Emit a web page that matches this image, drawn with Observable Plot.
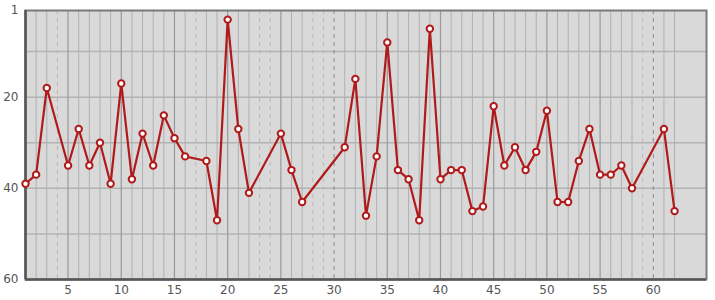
<!DOCTYPE html>
<html>
<head>
<meta charset="utf-8">
<script src="https://cdn.jsdelivr.net/npm/d3@7"></script>
<script src="https://cdn.jsdelivr.net/npm/@observablehq/plot@0.6"></script>
<style>
  html, body { margin: 0; padding: 0; background: #fff; }
  #chart svg { display: block; }
</style>
</head>
<body>
<div id="chart"></div>
<script>
const days = [1,2,3,5,6,7,8,9,10,11,12,13,14,15,16,18,19,20,21,22,25,26,27,31,32,33,34,35,36,37,38,39,40,41,42,43,44,45,46,47,48,49,50,51,52,53,54,55,56,57,58,61,62];
const ranks = [39,37,18,35,27,35,30,39,17,38,28,35,24,29,33,34,47,3,27,41,28,36,43,31,16,46,33,8,36,38,47,5,38,36,36,45,44,22,35,31,36,32,23,43,43,34,27,37,37,35,40,27,45];
const missingDays = [4,17,23,24,28,29,30,59,60];
const xTicks = [5,10,15,20,25,30,35,40,45,50,55,60];
const yTicks = [1,20,40,60];
const yGrid = [10,20,30,40,50];

const data = days.map((d, i) => ({day: d, rank: ranks[i]}));
const major = d => d % 5 === 0;

const chart = Plot.plot({
  width: 715,
  height: 300,
  marginLeft: 25,
  marginRight: 9,
  marginTop: 10,
  marginBottom: 21,
  style: {fontFamily: "DejaVu Sans, sans-serif", fontSize: "12px", color: "#555", background: "#fff"},
  x: {domain: [1, 65], label: null},
  y: {domain: [1, 60], reverse: true, label: null},
  marks: [
    Plot.frame({fill: "#d9d9d9", stroke: null}),
    Plot.ruleY(yGrid, {stroke: "#b3b3b3", strokeWidth: 1.5}),
    Plot.ruleX(days.filter(d => !major(d)), {stroke: "#b0b0b0", strokeWidth: 1}),
    Plot.ruleX(days.filter(major), {stroke: "#999", strokeWidth: 1.2}),
    Plot.ruleX(missingDays.filter(d => !major(d)), {stroke: "#b8b8b8", strokeWidth: 1, strokeDasharray: "4,4"}),
    Plot.ruleX(missingDays.filter(major), {stroke: "#8a8a8a", strokeWidth: 1, strokeDasharray: "4,4"}),
    Plot.frame({stroke: "#7a7a7a", strokeWidth: 2}),
    Plot.axisX({ticks: xTicks, tickSize: 0, tickPadding: 6, fill: "#555", fontSize: 12, label: null, tickFormat: d => d}),
    Plot.axisY({ticks: yTicks, tickSize: 0, tickPadding: 7, fill: "#555", fontSize: 12, label: null, tickFormat: d => d}),
    Plot.ruleX([1], {stroke: "#555", strokeWidth: 2.5}),
    Plot.ruleY([60], {stroke: "#555", strokeWidth: 2.5}),
    Plot.line(data, {x: "day", y: "rank", stroke: "#b01a1a", strokeWidth: 2.2, curve: "linear"}),
    Plot.dot(data, {x: "day", y: "rank", r: 3.2, fill: "#fff", stroke: "#b01a1a", strokeWidth: 2})
  ]
});
document.getElementById("chart").appendChild(chart);
</script>
</body>
</html>
